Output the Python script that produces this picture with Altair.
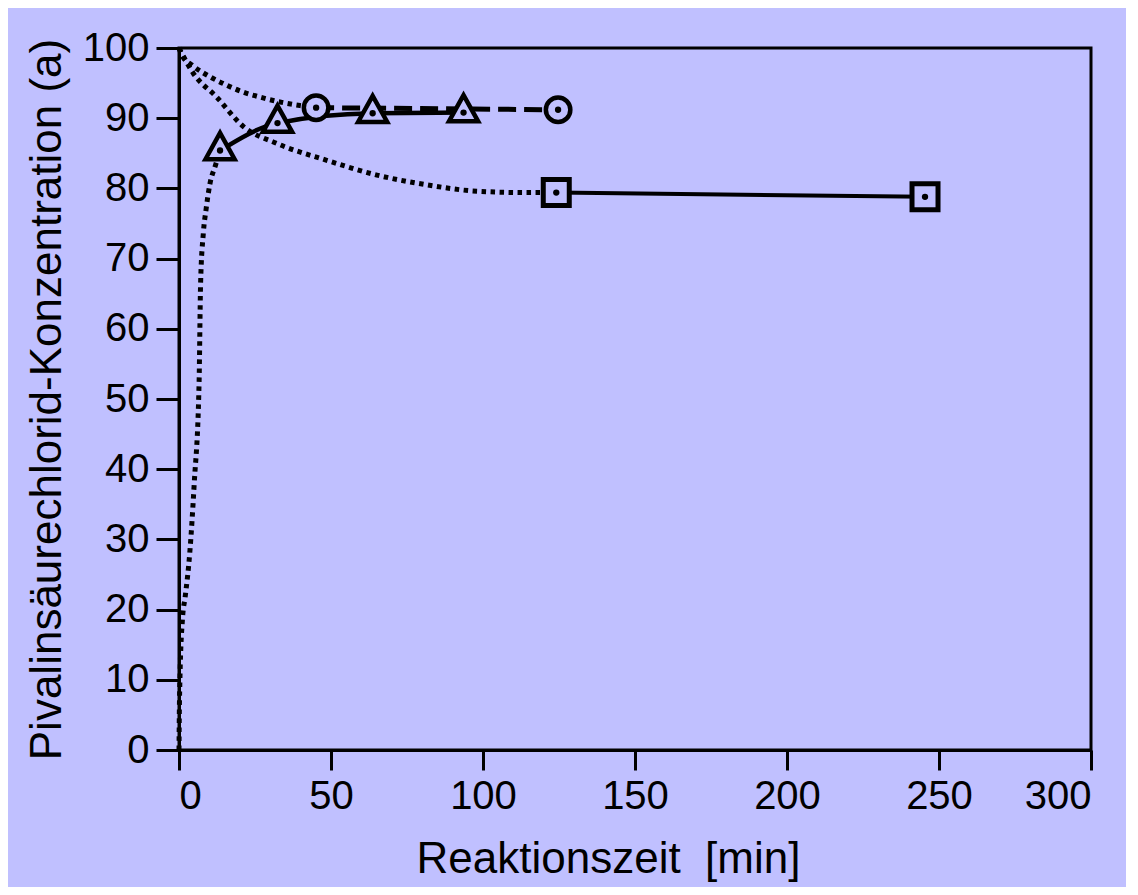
import altair as alt
import pandas as pd

BG = "#C0C0FF"

# measured series (Reaktionszeit [min], Konzentration)
tri_x = [13.5, 32.4, 63.7, 93.6]
tri_y = [85.4, 89.3, 90.7, 90.8]
circ_x = [45.1, 124.7]
circ_y = [91.5, 91.2]
sq_x = [124.1, 245.4]
sq_y = [79.4, 78.8]

# dotted model curves
a_x = [0, 0.1, 0.3, 1.2, 2.0, 3.6, 5.0, 6.6, 7.1, 8.0, 8.9, 10.2, 12.0, 13.5]
a_y = [0, 5, 10, 19, 21.7, 28.4, 37.9, 52.2, 66.4, 73.6, 77, 80.7, 83.3, 85.4]
b_x = [0, 0.9, 4.5, 10.2, 15.7, 21.2, 26.7, 32.2, 39.8, 45.1]
b_y = [100, 99, 97.5, 95.9, 94.7, 93.7, 93.0, 92.4, 91.8, 91.5]
c_x = [0, 4.7, 12.4, 21.2, 32.2, 48.6, 65.1, 81.6, 98.0, 114.5, 124.1]
c_y = [100, 96.4, 93.0, 88.8, 86.4, 84.0, 81.9, 80.5, 79.6, 79.4, 79.4]

x_ticks = [0, 50, 100, 150, 200, 250, 300]
y_ticks = [0, 10, 20, 30, 40, 50, 60, 70, 80, 90, 100]

FONT = "Liberation Sans"

xs = alt.Scale(domain=[0, 300], nice=False, zero=False)
ys = alt.Scale(domain=[0, 100], nice=False, zero=False)

x_axis = alt.Axis(values=x_ticks, tickSize=20, tickWidth=3, domainWidth=3,
                  domainColor="black", tickColor="black", grid=False,
                  labelFont=FONT, labelFontSize=40, labelColor="black", labelPadding=6,
                  title="Reaktionszeit\u00a0 [min]", titleFont=FONT, titleFontSize=44,
                  titleFontWeight="normal", titleColor="black",
                  titleX=429, titleY=122, titleAlign="center", titleBaseline="alphabetic")
y_axis = alt.Axis(values=y_ticks, tickSize=23, tickWidth=3, domainWidth=3,
                  domainColor="black", tickColor="black", grid=False,
                  labelFont=FONT, labelFontSize=40, labelColor="black", labelPadding=7,
                  title="Pivalinsäurechlorid-Konzentration (a)", titleFont=FONT,
                  titleFontSize=44, titleFontWeight="normal", titleColor="black",
                  titleX=-119, titleY=351, titleAngle=-90, titleAlign="center",
                  titleBaseline="alphabetic")


def df(x, y, name):
    return pd.DataFrame({"x": x, "y": y, "s": name, "o": list(range(len(x)))})


curves = pd.concat([df(a_x, a_y, "a"), df(b_x, b_y, "b"), df(c_x, c_y, "c")])
tri = df(tri_x, tri_y, "tri")
circ = df(circ_x, circ_y, "circ")
sq = df(sq_x, sq_y, "sq")
allpts = pd.concat([tri, circ, sq])

X = alt.X("x:Q", scale=xs, axis=x_axis)
Y = alt.Y("y:Q", scale=ys, axis=y_axis)

dotted = alt.Chart(curves).mark_line(
    color="black", strokeWidth=5, strokeDash=[4.5, 4.5], interpolate="monotone"
).encode(x=X, y=Y, detail="s:N", order="o:Q")

tri_line = alt.Chart(tri).mark_line(
    color="black", strokeWidth=4.5, interpolate="monotone"
).encode(x=X, y=Y, order="o:Q")

circ_line = alt.Chart(circ).mark_line(
    color="black", strokeWidth=5, strokeDash=[18, 8]
).encode(x=X, y=Y, order="o:Q")

sq_line = alt.Chart(sq).mark_line(
    color="black", strokeWidth=4
).encode(x=X, y=Y, order="o:Q")

tri_pts = alt.Chart(tri).mark_point(
    shape="M-1,0.6L0,-1.2L1,0.6Z", size=850, filled=True, fill=BG,
    stroke="black", strokeWidth=4.5, opacity=1
).encode(x=X, y=Y)

circ_pts = alt.Chart(circ).mark_point(
    shape="circle", size=600, filled=True, fill=BG,
    stroke="black", strokeWidth=4.5, opacity=1
).encode(x=X, y=Y)

sq_pts = alt.Chart(sq).mark_point(
    shape="square", size=676, filled=True, fill=BG,
    stroke="black", strokeWidth=5, opacity=1
).encode(x=X, y=Y)

dots = alt.Chart(allpts).mark_point(
    shape="circle", size=40, filled=True, color="black", opacity=1
).encode(x=X, y=Y)

chart = alt.layer(
    dotted, tri_line, circ_line, sq_line, tri_pts, circ_pts, sq_pts, dots
).properties(
    width=912, height=702,
    autosize=alt.AutoSizeParams(type="none"),
    padding={"left": 171, "top": 40, "right": 35, "bottom": 137},
    background=BG,
).configure_view(
    stroke="black", strokeWidth=3, fill=BG
)

chart.save("out.html", embed_options={"renderer": "svg", "actions": False})
